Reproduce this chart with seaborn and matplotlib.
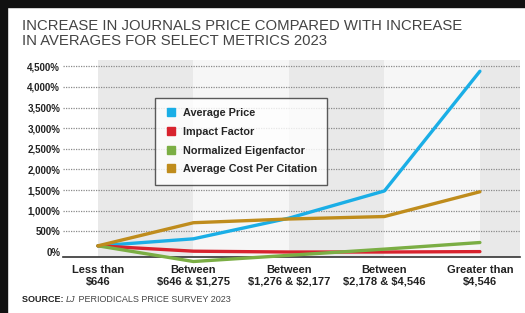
import pandas as pd
import numpy as np
import seaborn as sns
import matplotlib.pyplot as plt
from matplotlib.patches import Rectangle
from matplotlib.lines import Line2D

# price bands (x categories)
categories = ["Less than\n\\$646", "Between\n\\$646 & \\$1,275", "Between\n\\$1,276 & \\$2,177",
              "Between\n\\$2,178 & \\$4,546", "Greater than\n\\$4,546"]

# percent increase
avg_price = [150, 320, 820, 1480, 4380]
impact_factor = [150, 20, 0, 0, 10]
norm_eigen = [150, -230, -80, 70, 230]
cost_per_cite = [150, 710, 800, 860, 1460]

series_names = ["Average Price", "Impact Factor", "Normalized Eigenfactor", "Average Cost Per Citation"]
colors = ["#1aaee6", "#d8232e", "#7bae44", "#bf8c1c"]
yticks = [0, 500, 1000, 1500, 2000, 2500, 3000, 3500, 4000, 4500]

rows = []
for name, vals in zip(series_names, [avg_price, impact_factor, norm_eigen, cost_per_cite]):
    for i, v in enumerate(vals):
        rows.append({"x": i, "pct": v, "metric": name})
df = pd.DataFrame(rows)

sns.set_style("white")
plt.rcParams['font.family'] = ['Liberation Sans Narrow', 'Liberation Sans', 'DejaVu Sans']

fig = plt.figure(figsize=(5.25, 3.13), dpi=100)
ax = fig.add_axes([0.12, 0.179, 0.8705, 0.629])

# alternating column shading
band_cols = ["#e9e9e9", "#f6f6f6", "#e9e9e9", "#f6f6f6", "#e9e9e9"]
for i, c in enumerate(band_cols):
    ax.axvspan(i, i + 1, color=c, lw=0, zorder=0)

# dotted gridlines
for t in yticks[1:]:
    ax.axhline(t, color="#8a8a8a", lw=0.9, ls=(0, (1, 1)), zorder=1)

sns.lineplot(data=df, x="x", y="pct", hue="metric", hue_order=series_names,
             palette=colors, lw=2.4, legend=False, ax=ax, zorder=3, clip_on=False)

ax.set_xlim(-0.366, 4.42)
ax.set_ylim(-120, 4650)
ax.set_yticks(yticks)
ax.set_yticklabels([f"{t:,}%" for t in yticks], fontsize=7, fontweight="bold", color="#222222")
ax.set_xticks(range(5))
ax.set_xticklabels(categories, fontsize=8, fontweight="bold", color="#222222", linespacing=1.15)
ax.tick_params(axis="both", length=0, pad=2)
ax.tick_params(axis="x", pad=6)
ax.set_xlabel("")
ax.set_ylabel("")
for s in ["top", "right", "left"]:
    ax.spines[s].set_visible(False)
ax.spines["bottom"].set_color("#333333")
ax.spines["bottom"].set_linewidth(1.2)

# legend
handles = [Line2D([], [], marker="s", ls="none", markersize=6, color=c) for c in colors]
leg = ax.legend(handles, series_names, loc="upper left", bbox_to_anchor=(0.19, 0.835),
                frameon=True, fancybox=False, prop={"size": 7.8, "weight": "bold"},
                handletextpad=0.6, labelspacing=0.8, borderpad=0.95, handlelength=1.0)
leg.get_frame().set_edgecolor("#333333")
leg.get_frame().set_linewidth(1.0)
leg.set_zorder(5)

# title and source
fig.text(22 / 525, 1 - 19 / 313, "INCREASE IN JOURNALS PRICE COMPARED WITH INCREASE\nIN AVERAGES FOR SELECT METRICS 2023",
         fontsize=10.7, color="#444444", va="top", ha="left", linespacing=1.12)
ys = 1 - 300 / 313
src = fig.text(22 / 525, ys, "SOURCE: ", fontsize=6.5, fontweight="bold", color="#222222", va="center")
fig.canvas.draw()
x1 = src.get_window_extent().x1 / fig.bbox.width
t2 = fig.text(x1, ys, "LJ", fontsize=6.5, style="italic", color="#444444", va="center")
fig.canvas.draw()
x2 = t2.get_window_extent().x1 / fig.bbox.width
fig.text(x2, ys, " PERIODICALS PRICE SURVEY 2023", fontsize=6.5, color="#444444", va="center")

# black frame edges
fig.patches.append(Rectangle((0, 1 - 7 / 313), 1, 7 / 313, transform=fig.transFigure, color="#111111", zorder=10))
fig.patches.append(Rectangle((0, 0), 7 / 525, 1, transform=fig.transFigure, color="#111111", zorder=10))

fig.savefig("out.png", dpi=100)
